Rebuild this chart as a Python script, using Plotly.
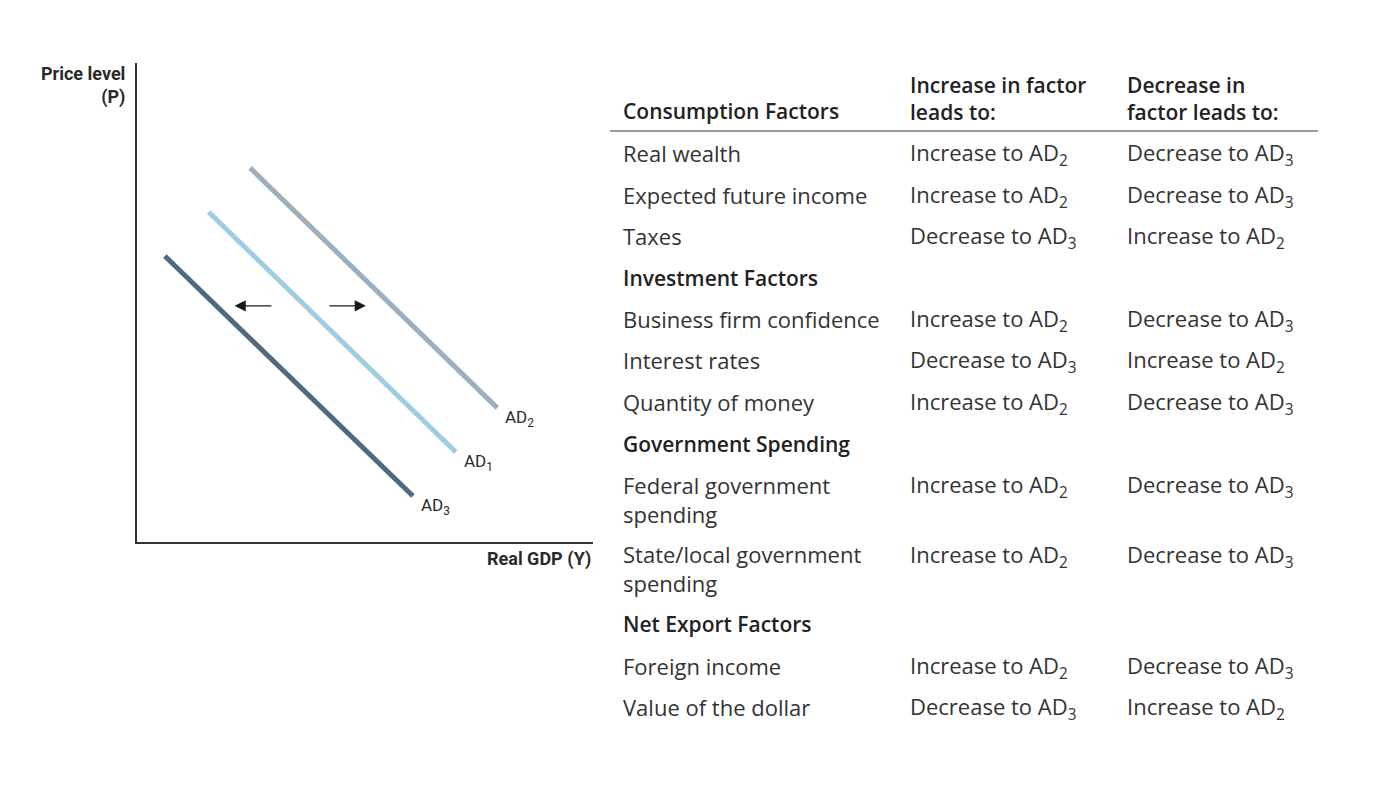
import plotly.graph_objects as go

W, H = 1378, 810
OFF = 8  # page body margin

# ---- data: aggregate demand curves (x: real GDP units, y: price level units) ----
curve_names = ["AD2", "AD1", "AD3"]
curve_labels = ["AD<sub>2</sub>", "AD<sub>1</sub>", "AD<sub>3</sub>"]
curve_x = [[2.48, 7.90], [1.57, 6.99], [0.61, 6.05]]
curve_y = [[7.81, 2.80], [6.89, 1.88], [5.97, 0.96]]
curve_colors = ["#9dafbc", "#9ecde2", "#4f6a80"]

# shift arrows (tail x, head x, y)
arrow_tail_x = [2.98, 4.19]
arrow_head_x = [2.14, 5.02]
arrow_y = [4.93, 4.93]

# ---- data: table ----
header_cols = ["Consumption Factors", "Increase in factor<br>leads to:", "Decrease in<br>factor leads to:"]
row_factor = ["Real wealth", "Expected future income", "Taxes", "Investment Factors",
              "Business firm confidence", "Interest rates", "Quantity of money",
              "Government Spending", "Federal government<br>spending",
              "State/local government<br>spending", "Net Export Factors",
              "Foreign income", "Value of the dollar"]
row_increase = ["Increase to AD<sub>2</sub>", "Increase to AD<sub>2</sub>", "Decrease to AD<sub>3</sub>", "",
                "Increase to AD<sub>2</sub>", "Decrease to AD<sub>3</sub>", "Increase to AD<sub>2</sub>", "",
                "Increase to AD<sub>2</sub>", "Increase to AD<sub>2</sub>", "",
                "Increase to AD<sub>2</sub>", "Decrease to AD<sub>3</sub>"]
row_decrease = ["Decrease to AD<sub>3</sub>", "Decrease to AD<sub>3</sub>", "Increase to AD<sub>2</sub>", "",
                "Decrease to AD<sub>3</sub>", "Increase to AD<sub>2</sub>", "Decrease to AD<sub>3</sub>", "",
                "Decrease to AD<sub>3</sub>", "Decrease to AD<sub>3</sub>", "",
                "Decrease to AD<sub>3</sub>", "Increase to AD<sub>2</sub>"]
row_is_section = [False, False, False, True, False, False, False, True, False, False, True, False, False]


def px(x):
    return (x - OFF) / W


def py(y):
    return 1 - (y - OFF) / H


fig = go.Figure()
for xs, ys, c, n in zip(curve_x, curve_y, curve_colors, curve_names):
    fig.add_trace(go.Scatter(x=xs, y=ys, mode="lines", name=n,
                             line=dict(color=c, width=5), hoverinfo="skip"))

LF = "Roboto"
annotations = []
# curve labels at line ends
for xs, ys, lab in zip(curve_x, curve_y, curve_labels):
    annotations.append(dict(x=xs[1], y=ys[1], xref="x", yref="y", text=lab, showarrow=False,
                            xanchor="left", yanchor="top", xshift=6, yshift=3,
                            font=dict(family=LF, size=17, color="#2a2a2a")))
# shift arrows
for tx, hx, ay in zip(arrow_tail_x, arrow_head_x, arrow_y):
    annotations.append(dict(x=hx, y=ay, ax=tx, ay=ay, xref="x", yref="y", axref="x", ayref="y",
                            text="", showarrow=True, arrowhead=2, arrowsize=1.6, arrowwidth=1.4,
                            arrowcolor="#1a1a1a"))
# axis titles
annotations.append(dict(x=px(127), y=py(61), xref="paper", yref="paper", text="<b>Price level<br>(P)</b>",
                        showarrow=False, xanchor="right", yanchor="top", align="right",
                        font=dict(family=LF, size=18, color="#2a2a2a")))
annotations.append(dict(x=px(593), y=py(559), xref="paper", yref="paper", text="<b>Real GDP (Y)</b>",
                        showarrow=False, xanchor="right", yanchor="middle",
                        font=dict(family=LF, size=18, color="#2a2a2a")))

# table
TF = "Open Sans"
TS = 22
col_x = [621, 908, 1125]
header_y = [111, 98, 98]
for cx, txt, hy in zip(col_x, header_cols, header_y):
    annotations.append(dict(x=px(cx), y=py(hy), xref="paper", yref="paper", text=txt,
                            showarrow=False, xanchor="left", yanchor="middle", align="left",
                            font=dict(family=TF, size=TS - 1, color="#222222", weight=600)))

y = 153
step = 41.5
line_h = 28
for f, inc, dec, sec in zip(row_factor, row_increase, row_decrease, row_is_section):
    nlines = f.count("<br>") + 1
    ycenter = y + (nlines - 1) * line_h / 2
    annotations.append(dict(x=px(col_x[0]), y=py(ycenter), xref="paper", yref="paper", text=f,
                            showarrow=False, xanchor="left", yanchor="middle", align="left",
                            font=dict(family=TF, size=TS - 1 if sec else TS,
                                      color="#222222" if sec else "#333333",
                                      weight=600 if sec else 400)))
    for cx, t in zip(col_x[1:], [inc, dec]):
        if t:
            annotations.append(dict(x=px(cx), y=py(y), xref="paper", yref="paper", text=t,
                                    showarrow=False, xanchor="left", yanchor="middle", align="left",
                                    yshift=-1,
                                    font=dict(family=TF, size=TS, color="#333333")))
    y += step + (nlines - 1) * line_h

shapes = [dict(type="line", xref="paper", yref="paper", x0=px(610), x1=px(1318), y0=py(131), y1=py(131),
               line=dict(color="#9a9a9a", width=2))]

fig.update_layout(
    width=W, height=H, margin=dict(l=0, r=0, t=0, b=0),
    paper_bgcolor="white", plot_bgcolor="white", showlegend=False,
    xaxis=dict(domain=[px(137), px(593)], range=[0, 10], showline=True, linecolor="#333333", linewidth=1.5,
               showgrid=False, zeroline=False, showticklabels=False, ticks=""),
    yaxis=dict(domain=[py(542), py(63)], range=[0, 10], showline=True, linecolor="#333333", linewidth=1.5,
               showgrid=False, zeroline=False, showticklabels=False, ticks=""),
    annotations=annotations, shapes=shapes,
)

fig.write_html("out.html")
